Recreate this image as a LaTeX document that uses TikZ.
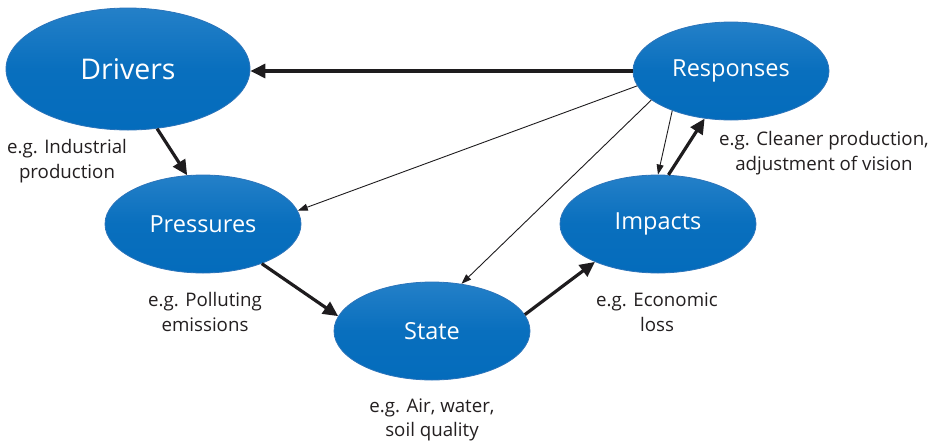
\documentclass[tikz,border=0pt]{standalone}
\usepackage{fontspec}
\setmainfont{Open Sans}
\usetikzlibrary{arrows.meta,shapes.geometric}
\definecolor{ellfill}{RGB}{4,108,188}
\definecolor{elltop}{RGB}{36,128,200}
\definecolor{elledge}{RGB}{44,116,186}
\definecolor{labeltext}{RGB}{35,31,32}
\definecolor{arrowcol}{RGB}{30,28,30}
\tikzset{
  stage/.style={ellipse, draw=elledge, line width=0.8pt, top color=elltop, bottom color=ellfill,
    middle color=ellfill!85!elltop,
    text=white, inner sep=0pt, minimum width=196pt, minimum height=98pt, font=\fontsize{23.5}{28}\selectfont},
  bigstage/.style={stage, minimum width=244pt, minimum height=122pt, font=\fontsize{28.5}{34}\selectfont},
  example/.style={text=labeltext, align=center, font=\fontsize{18.7}{24.5}\selectfont, inner sep=0pt},
  mainflow/.style={draw=arrowcol, line width=3.2pt, -{Triangle[length=15pt,width=14pt]}},
  feedback/.style={draw=arrowcol, line width=0.9pt, -{Triangle[length=10pt,width=7pt]}}
}
\begin{document}
\begin{tikzpicture}[x=1pt,y=-1pt]
\useasboundingbox (0,0) rectangle (935,440);

% the five DPSIR stages
\node[bigstage] (drivers) at (128,69) {Drivers};
\node[stage] (pressures) at (203,224) {Pressures};
\node[stage] (state) at (432,331) {State};
\node[stage] (impacts) at (658,224) {Impacts};
\node[stage] (responses) at (731,71) {Responses};

% examples for each stage
\node[example] (exdrivers) at (67,161) {e.g. Industrial\\production};
\node[example] (expressures) at (205,312) {e.g. Polluting\\emissions};
\node[example] (exstate) at (432,420) {e.g. Air, water,\\soil quality};
\node[example] (eximpacts) at (657,312) {e.g. Economic\\loss};
\node[example] (exresponses) at (824,153) {e.g. Cleaner production,\\adjustment of vision};

% main causal chain
\draw[mainflow] (drivers.-64) -- (pressures.108);
\draw[mainflow] (pressures.-34) -- (state.171);
\draw[mainflow] (state.10) -- (impacts.-149);
\draw[mainflow] (impacts.78) -- (responses.-119);
\draw[mainflow] (responses.west) -- (responses.west -| drivers.east);

% feedback from responses
\draw[feedback] (responses.-146) -- (impacts.90);
\draw[feedback] (responses.-171) -- (pressures.8);
\draw[feedback] (responses.-160) -- (state.58);
\end{tikzpicture}
\end{document}
